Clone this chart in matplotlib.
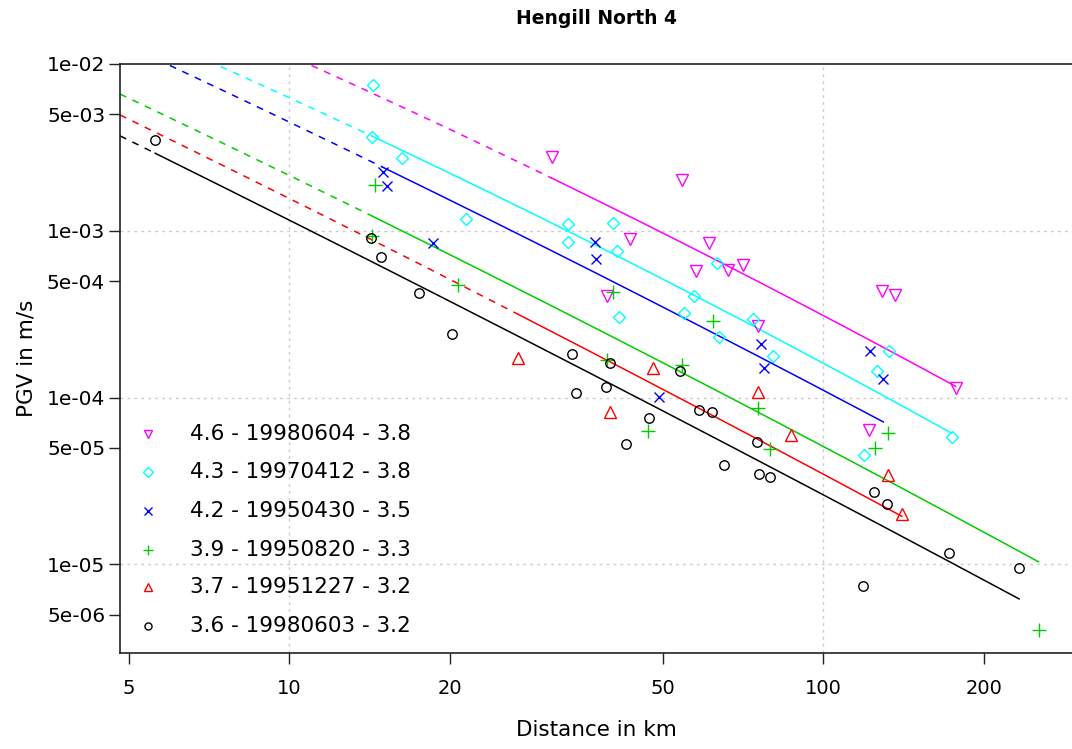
import numpy as np
import matplotlib
matplotlib.use("Agg")
import matplotlib.pyplot as plt
from matplotlib.ticker import FixedLocator, NullLocator, FixedFormatter

# ---------------- data ----------------
labels = ["4.6 - 19980604 - 3.8", "4.3 - 19970412 - 3.8", "4.2 - 19950430 - 3.5",
          "3.9 - 19950820 - 3.3", "3.7 - 19951227 - 3.2", "3.6 - 19980603 - 3.2"]
colors = ["#FF00FF", "#00FFFF", "#0000FF", "#00CD00", "#FF0000", "#000000"]
markers = ["v", "D", "x", "+", "^", "o"]

dist_19980604 = [31.0, 54.3, 43.4, 61.1, 39.3, 57.8, 66.2, 70.8, 75.4, 128.7, 136.2, 177.0, 121.9]
pgv_19980604 = [2.78e-3, 2.02e-3, 8.93e-4, 8.49e-4, 4.08e-4, 5.76e-4, 5.82e-4, 6.24e-4, 2.69e-4,
                4.37e-4, 4.10e-4, 1.14e-4, 6.42e-5]

dist_19970412 = [14.33, 14.27, 16.26, 21.42, 33.3, 33.3, 40.4, 41.0, 63.2, 57.3, 41.4, 54.8, 73.8,
                 63.9, 80.6, 132.7, 126.2, 174.0, 119.4]
pgv_19970412 = [7.48e-3, 3.66e-3, 2.74e-3, 1.17e-3, 1.094e-3, 8.6e-4, 1.11e-3, 7.57e-4, 6.39e-4,
                4.08e-4, 3.03e-4, 3.23e-4, 2.95e-4, 2.32e-4, 1.78e-4, 1.90e-4, 1.44e-4, 5.83e-5, 4.53e-5]

dist_19950430 = [14.96, 15.26, 18.61, 37.4, 37.5, 76.4, 77.5, 49.2, 122.3, 129.5]
pgv_19950430 = [2.24e-3, 1.86e-3, 8.41e-4, 8.6e-4, 6.75e-4, 2.10e-4, 1.50e-4, 1.01e-4, 1.91e-4, 1.29e-4]

dist_19950820 = [14.49, 14.30, 20.67, 40.4, 62.2, 39.3, 54.3, 75.6, 47.0, 79.5, 132.3, 125.0, 252.9]
pgv_19950820 = [1.88e-3, 9.3e-4, 4.73e-4, 4.28e-4, 2.88e-4, 1.68e-4, 1.57e-4, 8.7e-5, 6.33e-5,
                4.9e-5, 6.16e-5, 5.01e-5, 4.02e-6]

dist_19951227 = [26.8, 48.0, 39.9, 75.6, 86.9, 132.3, 140.3]
pgv_19951227 = [1.72e-4, 1.50e-4, 8.16e-5, 1.085e-4, 5.97e-5, 3.44e-5, 2.0e-5]

dist_19980603 = [5.61, 14.21, 14.83, 17.51, 20.17, 33.9, 39.9, 34.5, 39.1, 53.9, 58.5, 61.8, 47.2,
                 42.8, 75.1, 65.3, 75.9, 79.5, 124.4, 131.8, 118.7, 172.0, 232.6]
pgv_19980603 = [3.50e-3, 9.09e-4, 7.0e-4, 4.26e-4, 2.40e-4, 1.83e-4, 1.61e-4, 1.06e-4, 1.15e-4,
                1.44e-4, 8.43e-5, 8.23e-5, 7.57e-5, 5.27e-5, 5.44e-5, 3.94e-5, 3.48e-5, 3.33e-5,
                2.70e-5, 2.30e-5, 7.42e-6, 1.17e-5, 9.51e-6]

# fitted attenuation curves: log10(PGV) = a + b*log10(d) + c*log10(d)^2
fit_a = [-0.638, -0.856, -0.888, -1.173, -1.265, -1.369]
fit_b = [-1.187, -1.223, -1.386, -1.430, -1.485, -1.527]
fit_c = [-0.124, -0.123, -0.074, -0.065, -0.056, -0.040]

dists = [dist_19980604, dist_19970412, dist_19950430, dist_19950820, dist_19951227, dist_19980603]
pgvs = [pgv_19980604, pgv_19970412, pgv_19950430, pgv_19950820, pgv_19951227, pgv_19980603]

x_ticks = [5, 10, 20, 50, 100, 200]
x_tick_labels = ["5", "10", "20", "50", "100", "200"]
y_ticks = [1e-2, 5e-3, 1e-3, 5e-4, 1e-4, 5e-5, 1e-5, 5e-6]
y_tick_labels = ["1e-02", "5e-03", "1e-03", "5e-04", "1e-04", "5e-05", "1e-05", "5e-06"]

# ---------------- figure ----------------
W, H = 1072, 749
fig = plt.figure(figsize=(W / 100, H / 100), dpi=100)
ax = fig.add_axes([120 / W, 96.3 / H, 955 / W, 588.7 / H])
ax.set_xscale("log")
ax.set_yscale("log")
xlim = (4.82, 296.0)
ax.set_xlim(*xlim)
ax.set_ylim(2.955e-6, 1e-2)

# grid
for gx in [10, 100]:
    ax.axvline(gx, color="#cccccc", lw=1.0, ls=(0, (2, 3)), zorder=0)
for gy in [1e-3, 1e-4, 1e-5]:
    ax.axhline(gy, color="#cccccc", lw=1.0, ls=(0, (2, 3)), zorder=0)

msizes = {"v": 8.5, "D": 6.2, "x": 7.2, "+": 9.5, "^": 8.5, "o": 6.8}

for d, p, col, mk in zip(dists, pgvs, colors, markers):
    filled = mk in ("x", "+")
    ax.plot(d, p, ls="none", marker=mk, ms=msizes[mk],
            mfc="none" if not filled else col, mec=col, mew=1.0, zorder=3)

for d, col, a, b, c in zip(dists, colors, fit_a, fit_b, fit_c):
    dmin, dmax = min(d), max(d)
    dd = np.geomspace(xlim[0], dmin, 200)
    ld = np.log10(dd)
    ax.plot(dd, 10 ** (a + b * ld + c * ld ** 2), color=col, lw=1.1,
            ls=(0, (4.5, 4.5)), zorder=2)
    ds = np.geomspace(dmin, dmax, 300)
    ls_ = np.log10(ds)
    ax.plot(ds, 10 ** (a + b * ls_ + c * ls_ ** 2), color=col, lw=1.1, zorder=2)

# axes styling
ax.spines["right"].set_visible(False)
for s in ["left", "bottom", "top"]:
    ax.spines[s].set_linewidth(1.2)
    ax.spines[s].set_color("#222222")
ax.xaxis.set_major_locator(FixedLocator(x_ticks))
ax.xaxis.set_major_formatter(FixedFormatter(x_tick_labels))
ax.xaxis.set_minor_locator(NullLocator())
ax.yaxis.set_major_locator(FixedLocator(y_ticks))
ax.yaxis.set_major_formatter(FixedFormatter(y_tick_labels))
ax.yaxis.set_minor_locator(NullLocator())
ax.tick_params(axis="both", direction="out", length=7.7, width=1.0, color="#222222")
ax.tick_params(axis="x", pad=11, labelsize=14)
ax.tick_params(axis="y", pad=3, labelsize=14.5)

# labels and title
fig.text(596 / W, 1 - 730 / H, "Distance in km", ha="center", va="center", fontsize=15.5)
fig.text(26 / W, 1 - 358 / H, "PGV in m/s", ha="center", va="center", rotation=90, fontsize=15.5)
fig.text(596 / W, 1 - 18 / H, "Hengill North 4", ha="center", va="center", fontsize=13.5,
         fontweight="bold")

# legend (no frame) at lower left
row_y = [0.371, 0.3064, 0.2407, 0.1745, 0.1121, 0.0459]
for lab, col, mk, yy in zip(labels, colors, markers, row_y):
    filled = mk in ("x", "+")
    ax.plot([0.029], [yy], transform=ax.transAxes, ls="none", marker=mk,
            ms=msizes[mk] * 0.75, mfc="none" if not filled else col, mec=col, mew=1.0,
            clip_on=False, zorder=4)
    ax.text(0.0733, yy, lab, transform=ax.transAxes, ha="left", va="center", fontsize=15.5)

fig.savefig("out.png", dpi=100)
